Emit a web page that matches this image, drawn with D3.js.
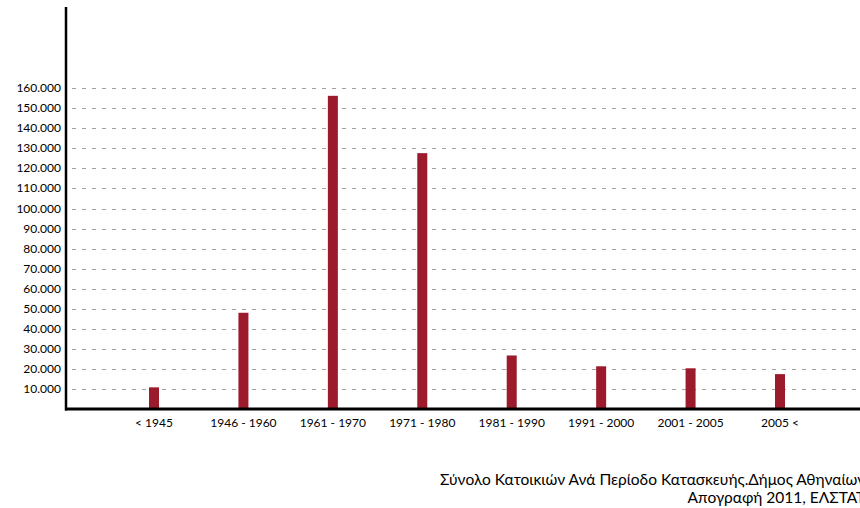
<!DOCTYPE html>
<html>
<head>
<meta charset="utf-8">
<script src="https://cdn.jsdelivr.net/npm/d3@7"></script>
<style>
  body { margin: 0; background: #fff; }
  svg { display: block; font-family: Lato, "Open Sans", sans-serif; }
  .grid line { stroke: #a0a0a0; stroke-dasharray: 4,6; stroke-width: 1; }
</style>
</head>
<body>
<svg id="chart" width="860" height="508"></svg>
<script>
var periods = ["< 1945", "1946 - 1960", "1961 - 1970", "1971 - 1980", "1981 - 1990", "1991 - 2000", "2001 - 2005", "2005 <"];
var dwellings = [10800, 48000, 156200, 127600, 26700, 21300, 20300, 17400];
var yTicks = d3.range(10000, 160001, 10000);
var captionLines = ["Σύνολο Κατοικιών Ανά Περίοδο Κατασκευής.Δήμος Αθηναίων", "Απογραφή 2011, ΕΛΣΤΑΤ"];

var svg = d3.select("#chart");
var axisX = 66, axisY = 409;

var x = d3.scalePoint().domain(periods).range([154, 780]);
var y = d3.scaleLinear().domain([0, 200000]).range([axisY, 8]);
var fmt = d3.formatLocale({ decimal: ",", thousands: ".", grouping: [3], currency: ["", "€"] }).format(",");

//dashed gridlines
svg.append("g").attr("class", "grid")
  .selectAll("line").data(yTicks).enter()
  .append("line")
    .attr("x1", 72).attr("x2", 860)
    .attr("y1", d => Math.round(y(d)) + 0.5)
    .attr("y2", d => Math.round(y(d)) + 0.5);

//y tick labels
svg.append("g")
  .selectAll("text").data(yTicks).enter()
  .append("text")
    .attr("x", 61)
    .attr("y", d => y(d) + 4)
    .attr("text-anchor", "end")
    .attr("font-size", 12)
    .attr("fill", "#000")
    .text(d => fmt(d));

//bars
svg.append("g")
  .selectAll("rect").data(dwellings).enter()
  .append("rect")
    .attr("x", (d, i) => x(periods[i]) - 5)
    .attr("width", 10)
    .attr("y", d => y(d))
    .attr("height", d => axisY - y(d))
    .attr("fill", "#9b1a2c");

//x labels
svg.append("g")
  .selectAll("text").data(periods).enter()
  .append("text")
    .attr("x", d => x(d))
    .attr("y", 427)
    .attr("text-anchor", "middle")
    .attr("font-size", 12)
    .attr("fill", "#000")
    .text(d => d);

//axes
svg.append("line")
    .attr("x1", axisX).attr("x2", axisX)
    .attr("y1", 7).attr("y2", axisY + 1.5)
    .attr("stroke", "#000").attr("stroke-width", 2.5);
svg.append("line")
    .attr("x1", axisX - 1).attr("x2", 860)
    .attr("y1", axisY).attr("y2", axisY)
    .attr("stroke", "#000").attr("stroke-width", 3);

//caption, second line right-aligned with the first (runs past the right edge)
var cap1 = svg.append("text")
    .attr("x", 440).attr("y", 485)
    .attr("font-size", 15.5).attr("fill", "#000")
    .text(captionLines[0]);
var endX = 440 + cap1.node().getComputedTextLength();
svg.append("text")
    .attr("x", endX).attr("y", 503)
    .attr("text-anchor", "end")
    .attr("font-size", 15.5).attr("fill", "#000")
    .text(captionLines[1]);
</script>
</body>
</html>
